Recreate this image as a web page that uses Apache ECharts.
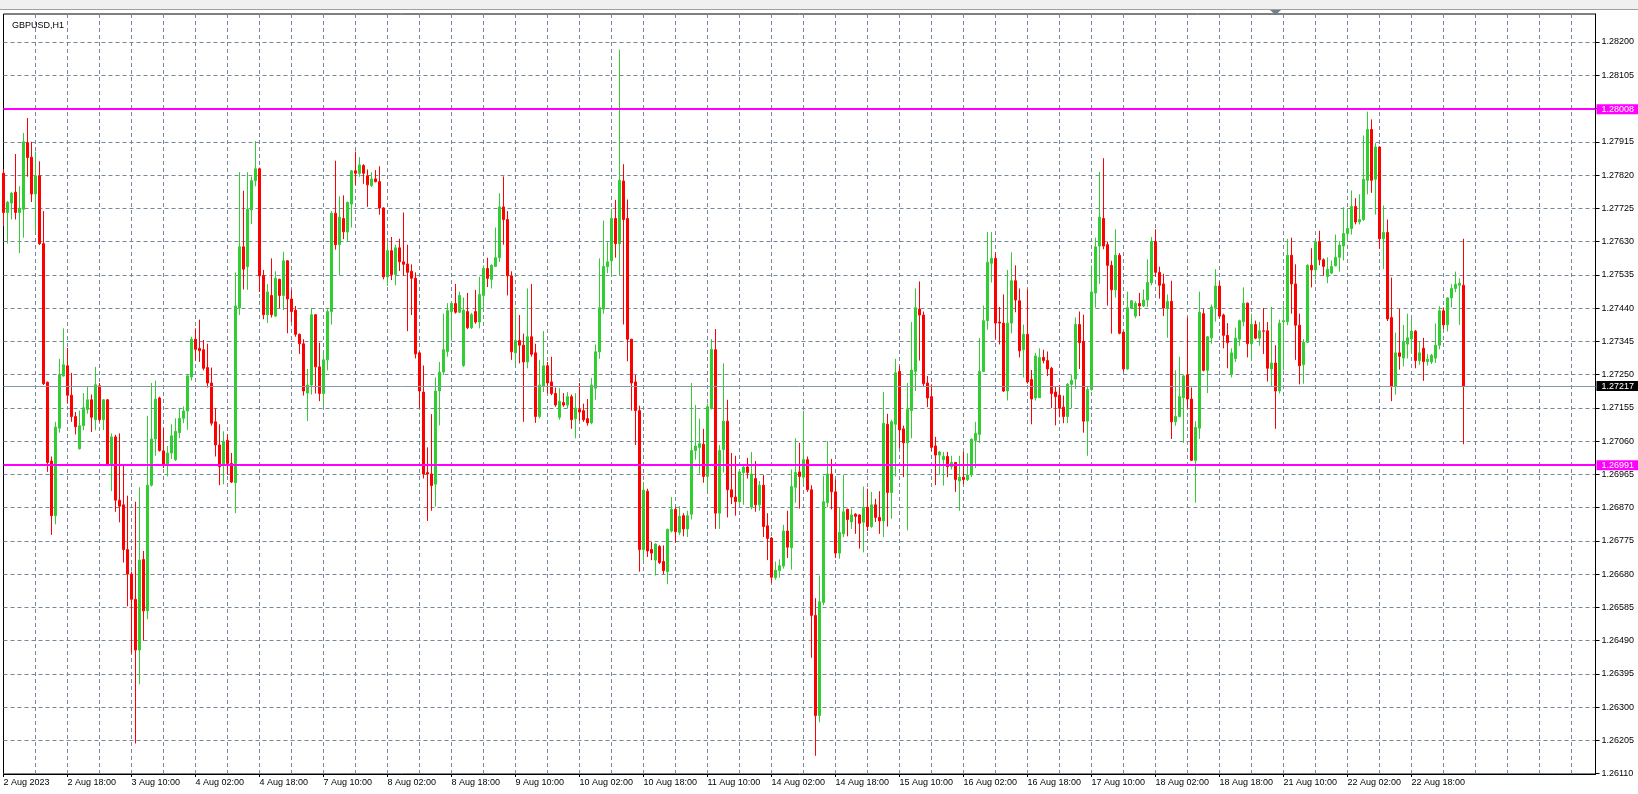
<!DOCTYPE html>
<html><head><meta charset="utf-8">
<script src="https://cdn.jsdelivr.net/npm/echarts@6/dist/echarts.min.js"></script>
<style>html,body{margin:0;padding:0;background:#fff}#c{width:1638px;height:794px}</style>
</head><body><div id="c"></div>
<script>
const symbolTitle = 'GBPUSD,H1';
const tickLabels = ['2 Aug 2023','2 Aug 18:00','3 Aug 10:00','4 Aug 02:00','4 Aug 18:00','7 Aug 10:00','8 Aug 02:00','8 Aug 18:00','9 Aug 10:00','10 Aug 02:00','10 Aug 18:00','11 Aug 10:00','14 Aug 02:00','14 Aug 18:00','15 Aug 10:00','16 Aug 02:00','16 Aug 18:00','17 Aug 10:00','18 Aug 02:00','18 Aug 18:00','21 Aug 10:00','22 Aug 02:00','22 Aug 18:00'];
const priceTicks = [1.26110,1.26205,1.26300,1.26395,1.26490,1.26585,1.26680,1.26775,1.26870,1.26965,1.27060,1.27155,1.27250,1.27345,1.27440,1.27535,1.27630,1.27725,1.27820,1.27915,1.28010,1.28105,1.28200];
const levelLines = [1.28008, 1.26991];
const lastPrice = 1.27217;
const totalSlots = 399;

const opens = [
1.27825,1.27713,1.27740,1.27771,1.27713,1.27722,1.27912,1.27871,1.27766,1.27818,
1.27624,1.27228,1.27003,1.26847,1.27097,1.27246,1.27275,1.27191,1.27130,1.27038,
1.27104,1.27150,1.27178,1.27121,1.27218,1.27121,1.27178,1.26992,1.27072,1.26891,
1.26878,1.26750,1.26680,1.26608,1.26463,1.26722,1.26575,1.26934,1.27066,1.27183,
1.27032,1.26990,1.27026,1.27007,1.27084,1.27125,1.27146,1.27243,1.27351,1.27325,
1.27321,1.27270,1.27226,1.27115,1.27049,1.26990,1.27062,1.26996,1.26941,1.27440,
1.27615,1.27558,1.27720,1.27804,1.27838,1.27533,1.27421,1.27476,1.27417,1.27522,
1.27476,1.27575,1.27466,1.27434,1.27365,1.27338,1.27197,1.27220,1.27421,1.27272,
1.27196,1.27292,1.27430,1.27711,1.27621,1.27696,1.27657,1.27737,1.27832,1.27825,
1.27847,1.27818,1.27790,1.27809,1.27801,1.27726,1.27529,1.27604,1.27536,1.27612,
1.27572,1.27566,1.27545,1.27525,1.27312,1.27200,1.26970,1.26966,1.26937,1.27203,
1.27257,1.27316,1.27430,1.27453,1.27428,1.27276,1.27430,1.27384,1.27430,1.27400,
1.27476,1.27553,1.27522,1.27559,1.27584,1.27729,1.27693,1.27532,1.27312,1.27347,
1.27334,1.27286,1.27358,1.27312,1.27130,1.27217,1.27275,1.27229,1.27196,1.27128,
1.27170,1.27163,1.27187,1.27124,1.27150,1.27147,1.27124,1.27112,1.27211,1.27315,
1.27437,1.27558,1.27575,1.27696,1.27624,1.27803,1.27696,1.27351,1.27229,1.27147,
1.26750,1.26917,1.26750,1.26720,1.26759,1.26716,1.26687,1.26803,1.26865,1.26799,
1.26847,1.26809,1.26851,1.27033,1.27042,1.27051,1.26959,1.27154,1.27321,1.26854,
1.27036,1.27117,1.26921,1.26900,1.26887,1.26970,1.26986,1.26871,1.26953,1.26878,
1.26934,1.26818,1.26783,1.26670,1.26690,1.26703,1.26803,1.26755,1.26928,1.26972,
1.26957,1.27007,1.26921,1.26562,1.26276,1.26599,1.26884,1.26966,1.26915,1.26740,
1.26795,1.26865,1.26829,1.26851,1.26849,1.26828,1.26871,1.26816,1.26878,1.26842,
1.26832,1.27108,1.26913,1.27108,1.27259,1.27095,1.27055,1.27147,1.27259,1.27437,
1.27420,1.27226,1.27187,1.27046,1.27020,1.27007,1.27016,1.26987,1.26999,1.26946,
1.26957,1.26950,1.26963,1.27062,1.27079,1.27259,1.27404,1.27568,1.27582,1.27400,
1.27397,1.27203,1.27397,1.27518,1.27461,1.27321,1.27365,1.27236,1.27183,1.27184,
1.27299,1.27290,1.27268,1.27200,1.27191,1.27157,1.27130,1.27222,1.27237,1.27393,
1.27345,1.27117,1.27207,1.27483,1.27617,1.27696,1.27621,1.27562,1.27492,1.27591,
1.27371,1.27266,1.27440,1.27417,1.27453,1.27446,1.27463,1.27512,1.27630,1.27542,
1.27509,1.27440,1.27459,1.27115,1.27130,1.27184,1.27249,1.27180,1.27005,1.27097,
1.27424,1.27262,1.27355,1.27441,1.27503,1.27420,1.27362,1.27250,1.27296,1.27351,
1.27401,1.27454,1.27338,1.27393,1.27354,1.27375,1.27375,1.27266,1.27283,1.27203,
1.27401,1.27401,1.27591,1.27509,1.27391,1.27278,1.27342,1.27562,1.27549,1.27630,
1.27578,1.27530,1.27540,1.27561,1.27585,1.27617,1.27653,1.27667,1.27730,1.27686,
1.27693,1.27805,1.27950,1.27808,1.27900,1.27638,1.27656,1.27413,1.27217,1.27312,
1.27297,1.27337,1.27352,1.27374,1.27290,1.27325,1.27287,1.27286,1.27297,1.27334,
1.27432,1.27392,1.27469,1.27496,1.27505,1.27505];

const highs = [
1.27836,1.27746,1.27772,1.27880,1.27788,1.27940,1.27983,1.27915,1.27887,1.27859,
1.27717,1.27230,1.27016,1.27115,1.27295,1.27382,1.27326,1.27255,1.27143,1.27147,
1.27197,1.27215,1.27193,1.27272,1.27226,1.27180,1.27180,1.27082,1.27078,1.27082,
1.26990,1.26904,1.26687,1.26887,1.26928,1.26746,1.27132,1.27226,1.27233,1.27187,
1.27097,1.27046,1.27108,1.27125,1.27154,1.27159,1.27250,1.27358,1.27382,1.27407,
1.27349,1.27338,1.27270,1.27154,1.27108,1.27088,1.27079,1.27026,1.27542,1.27828,
1.27775,1.27828,1.27816,1.27917,1.27841,1.27549,1.27509,1.27582,1.27545,1.27524,
1.27601,1.27577,1.27492,1.27446,1.27367,1.27351,1.27266,1.27440,1.27423,1.27341,
1.27312,1.27437,1.27717,1.27861,1.27759,1.27762,1.27744,1.27834,1.27887,1.27871,
1.27851,1.27836,1.27828,1.27834,1.27845,1.27728,1.27628,1.27643,1.27621,1.27638,
1.27713,1.27621,1.27565,1.27542,1.27315,1.27276,1.27042,1.27137,1.27242,1.27286,
1.27424,1.27454,1.27459,1.27509,1.27487,1.27470,1.27483,1.27426,1.27492,1.27529,
1.27562,1.27584,1.27565,1.27670,1.27768,1.27816,1.27717,1.27545,1.27441,1.27420,
1.27367,1.27496,1.27509,1.27338,1.27292,1.27374,1.27286,1.27301,1.27213,1.27211,
1.27197,1.27200,1.27193,1.27197,1.27226,1.27167,1.27180,1.27240,1.27336,1.27582,
1.27690,1.27628,1.27724,1.27749,1.28178,1.27851,1.27750,1.27352,1.27249,1.27161,
1.26943,1.26924,1.26772,1.26768,1.26763,1.26762,1.26810,1.26900,1.26871,1.26874,
1.26854,1.26861,1.27226,1.27163,1.27124,1.27095,1.27167,1.27351,1.27380,1.27049,
1.27282,1.27178,1.27026,1.27018,1.26976,1.26993,1.27012,1.27029,1.27003,1.26946,
1.26963,1.26854,1.26786,1.26716,1.26722,1.26821,1.26861,1.26979,1.27068,1.27055,
1.27147,1.27016,1.26934,1.26611,1.26676,1.26961,1.27060,1.27009,1.26950,1.26871,
1.26963,1.26867,1.26867,1.26854,1.26851,1.26930,1.26924,1.26915,1.26895,1.26917,
1.27200,1.27138,1.27121,1.27295,1.27275,1.27104,1.27226,1.27400,1.27496,1.27516,
1.27430,1.27246,1.27222,1.27072,1.27032,1.27029,1.27029,1.27018,1.27000,1.27018,
1.27029,1.27025,1.27068,1.27115,1.27354,1.27447,1.27657,1.27657,1.27599,1.27443,
1.27479,1.27549,1.27599,1.27562,1.27496,1.27393,1.27493,1.27263,1.27312,1.27325,
1.27321,1.27316,1.27272,1.27217,1.27220,1.27190,1.27226,1.27250,1.27413,1.27430,
1.27421,1.27217,1.27562,1.27641,1.27829,1.27868,1.27630,1.27575,1.27665,1.27597,
1.27374,1.27487,1.27463,1.27459,1.27483,1.27493,1.27579,1.27643,1.27665,1.27558,
1.27538,1.27479,1.27518,1.27262,1.27301,1.27249,1.27413,1.27213,1.27117,1.27487,
1.27437,1.27360,1.27450,1.27551,1.27516,1.27424,1.27397,1.27325,1.27384,1.27407,
1.27499,1.27456,1.27424,1.27404,1.27400,1.27440,1.27400,1.27443,1.27334,1.27407,
1.27447,1.27638,1.27641,1.27565,1.27424,1.27351,1.27565,1.27611,1.27634,1.27661,
1.27582,1.27585,1.27576,1.27650,1.27631,1.27728,1.27725,1.27776,1.27754,1.27765,
1.27933,1.28001,1.27979,1.27911,1.27902,1.27733,1.27693,1.27527,1.27370,1.27438,
1.27392,1.27424,1.27409,1.27377,1.27344,1.27355,1.27309,1.27309,1.27396,1.27445,
1.27442,1.27471,1.27508,1.27544,1.27525,1.27638];

const lows = [
1.27674,1.27624,1.27693,1.27693,1.27597,1.27641,1.27815,1.27743,1.27654,1.27620,
1.27220,1.26972,1.26792,1.26822,1.27084,1.27244,1.27167,1.27115,1.27079,1.27036,
1.27091,1.27138,1.27086,1.27091,1.27115,1.27091,1.26990,1.26917,1.26858,1.26828,
1.26713,1.26588,1.26453,1.26196,1.26365,1.26490,1.26551,1.26930,1.27018,1.27030,
1.26983,1.26959,1.27009,1.27003,1.27068,1.27111,1.27092,1.27233,1.27290,1.27286,
1.27262,1.27213,1.27104,1.27016,1.26934,1.26937,1.26963,1.26940,1.26854,1.27420,
1.27493,1.27492,1.27680,1.27788,1.27486,1.27408,1.27397,1.27413,1.27415,1.27440,
1.27434,1.27368,1.27400,1.27358,1.27309,1.27190,1.27117,1.27193,1.27196,1.27174,
1.27158,1.27262,1.27393,1.27607,1.27533,1.27637,1.27630,1.27670,1.27792,1.27815,
1.27795,1.27729,1.27786,1.27799,1.27707,1.27522,1.27503,1.27520,1.27505,1.27546,
1.27532,1.27374,1.27420,1.27296,1.27154,1.26953,1.26832,1.26861,1.26873,1.27105,
1.27249,1.27301,1.27347,1.27424,1.27426,1.27272,1.27380,1.27380,1.27395,1.27382,
1.27434,1.27500,1.27496,1.27558,1.27572,1.27621,1.27476,1.27292,1.27279,1.27282,
1.27115,1.27268,1.27301,1.27112,1.27125,1.27200,1.27196,1.27191,1.27158,1.27121,
1.27158,1.27154,1.27095,1.27068,1.27118,1.27115,1.27104,1.27108,1.27178,1.27295,
1.27424,1.27540,1.27533,1.27584,1.27532,1.27393,1.27288,1.27147,1.27049,1.26687,
1.26716,1.26729,1.26720,1.26676,1.26709,1.26680,1.26651,1.26799,1.26770,1.26792,
1.26788,1.26786,1.26836,1.27007,1.26967,1.26941,1.26920,1.27150,1.26809,1.26809,
1.26970,1.26842,1.26880,1.26847,1.26878,1.26878,1.26953,1.26865,1.26858,1.26861,
1.26786,1.26720,1.26654,1.26664,1.26670,1.26696,1.26726,1.26693,1.26884,1.26867,
1.26937,1.26915,1.26441,1.26161,1.26257,1.26591,1.26871,1.26865,1.26726,1.26724,
1.26786,1.26788,1.26809,1.26795,1.26753,1.26742,1.26803,1.26812,1.26829,1.26795,
1.26786,1.26816,1.26838,1.26959,1.27040,1.26957,1.26805,1.27068,1.27203,1.27290,
1.27217,1.27157,1.27032,1.26934,1.26963,1.26933,1.26957,1.26979,1.26915,1.26861,
1.26937,1.26946,1.26957,1.26983,1.27055,1.27257,1.27378,1.27513,1.27351,1.27336,
1.27200,1.27176,1.27368,1.27428,1.27299,1.27242,1.27224,1.27108,1.27176,1.27183,
1.27282,1.27246,1.27154,1.27105,1.27128,1.27111,1.27111,1.27154,1.27209,1.27266,
1.27084,1.27018,1.27204,1.27441,1.27509,1.27608,1.27447,1.27367,1.27470,1.27365,
1.27259,1.27264,1.27438,1.27411,1.27417,1.27443,1.27443,1.27505,1.27529,1.27467,
1.27417,1.27355,1.27066,1.27104,1.27128,1.27055,1.27154,1.27003,1.26884,1.27066,
1.27259,1.27197,1.27338,1.27401,1.27411,1.27325,1.27268,1.27242,1.27286,1.27332,
1.27388,1.27299,1.27290,1.27351,1.27332,1.27309,1.27230,1.27217,1.27095,1.27196,
1.27262,1.27391,1.27424,1.27292,1.27222,1.27224,1.27341,1.27499,1.27522,1.27562,
1.27532,1.27511,1.27537,1.27559,1.27544,1.27576,1.27631,1.27650,1.27679,1.27679,
1.27689,1.27765,1.27769,1.27707,1.27609,1.27551,1.27403,1.27174,1.27193,1.27264,
1.27273,1.27296,1.27309,1.27268,1.27278,1.27232,1.27276,1.27280,1.27283,1.27322,
1.27380,1.27373,1.27442,1.27486,1.27392,1.27051];

const closes = [
1.27713,1.27742,1.27768,1.27713,1.27725,1.27915,1.27870,1.27766,1.27818,1.27624,
1.27224,1.26999,1.26847,1.27100,1.27250,1.27278,1.27191,1.27130,1.27101,1.27104,
1.27155,1.27178,1.27128,1.27221,1.27121,1.27178,1.26992,1.27072,1.26891,1.26874,
1.26750,1.26680,1.26608,1.26463,1.26720,1.26575,1.26934,1.27066,1.27180,1.27033,
1.26990,1.27026,1.27075,1.27088,1.27125,1.27146,1.27246,1.27351,1.27322,1.27318,
1.27268,1.27226,1.27111,1.27049,1.26987,1.27058,1.26996,1.26943,1.27446,1.27615,
1.27551,1.27722,1.27804,1.27838,1.27532,1.27421,1.27486,1.27421,1.27525,1.27476,
1.27575,1.27466,1.27430,1.27365,1.27338,1.27203,1.27220,1.27421,1.27272,1.27196,
1.27292,1.27430,1.27711,1.27621,1.27700,1.27658,1.27742,1.27832,1.27825,1.27849,
1.27825,1.27792,1.27809,1.27801,1.27726,1.27529,1.27604,1.27536,1.27612,1.27572,
1.27565,1.27542,1.27525,1.27309,1.27203,1.26966,1.26966,1.26933,1.27203,1.27257,
1.27321,1.27433,1.27453,1.27428,1.27476,1.27434,1.27384,1.27421,1.27400,1.27479,
1.27553,1.27525,1.27562,1.27584,1.27729,1.27693,1.27532,1.27315,1.27347,1.27334,
1.27286,1.27358,1.27308,1.27130,1.27220,1.27275,1.27226,1.27196,1.27163,1.27174,
1.27163,1.27187,1.27121,1.27154,1.27143,1.27121,1.27112,1.27220,1.27315,1.27441,
1.27559,1.27572,1.27696,1.27624,1.27805,1.27693,1.27351,1.27226,1.27147,1.26750,
1.26920,1.26746,1.26740,1.26766,1.26713,1.26690,1.26808,1.26865,1.26801,1.26845,
1.26809,1.26847,1.27033,1.27046,1.27053,1.26959,1.27158,1.27322,1.26854,1.27033,
1.27117,1.26921,1.26900,1.26887,1.26972,1.26986,1.26970,1.26966,1.26878,1.26934,
1.26816,1.26782,1.26671,1.26691,1.26704,1.26803,1.26757,1.26930,1.26970,1.26959,
1.27007,1.26921,1.26562,1.26276,1.26601,1.26887,1.26966,1.26915,1.26740,1.26799,
1.26858,1.26836,1.26849,1.26845,1.26825,1.26871,1.26816,1.26878,1.26842,1.26832,
1.27111,1.26913,1.27115,1.27255,1.27092,1.27055,1.27150,1.27263,1.27441,1.27420,
1.27224,1.27183,1.27042,1.27020,1.27029,1.27016,1.26987,1.26999,1.26950,1.26957,
1.26950,1.26963,1.27065,1.27082,1.27259,1.27404,1.27571,1.27582,1.27397,1.27397,
1.27203,1.27397,1.27518,1.27463,1.27318,1.27365,1.27229,1.27180,1.27303,1.27299,
1.27290,1.27266,1.27196,1.27187,1.27154,1.27130,1.27222,1.27233,1.27393,1.27341,
1.27117,1.27207,1.27486,1.27615,1.27700,1.27617,1.27562,1.27492,1.27591,1.27368,
1.27266,1.27441,1.27461,1.27453,1.27446,1.27463,1.27513,1.27630,1.27542,1.27505,
1.27440,1.27459,1.27115,1.27130,1.27187,1.27246,1.27180,1.27005,1.27099,1.27428,
1.27262,1.27358,1.27443,1.27503,1.27417,1.27362,1.27341,1.27312,1.27354,1.27404,
1.27454,1.27338,1.27393,1.27354,1.27375,1.27374,1.27268,1.27283,1.27203,1.27397,
1.27404,1.27591,1.27509,1.27391,1.27275,1.27342,1.27562,1.27549,1.27628,1.27578,
1.27559,1.27551,1.27559,1.27585,1.27620,1.27653,1.27667,1.27730,1.27686,1.27693,
1.27808,1.27950,1.27805,1.27900,1.27638,1.27656,1.27409,1.27217,1.27312,1.27302,
1.27345,1.27355,1.27374,1.27290,1.27312,1.27287,1.27294,1.27305,1.27334,1.27432,
1.27392,1.27469,1.27496,1.27508,1.27511,1.27217];

const categories = [];
for (let i = 0; i < totalSlots; i++) categories.push(String(i));
const candles = opens.map((o, i) => {
  const c = closes[i];
  return [o, c, Math.min(lows[i], o, c), Math.max(highs[i], o, c)];
});

const FONT = 'Liberation Sans';
const GRID = '#778899';
const labelIdx = (i) => i % 16 === 0 && i / 16 < tickLabels.length;

const chart = echarts.init(document.getElementById('c'), null, {renderer: 'canvas', width: 1638, height: 794});
chart.setOption({
  animation: false,
  backgroundColor: '#ffffff',
  title: {
    text: symbolTitle, left: 7, top: 16,
    textStyle: {fontFamily: FONT, fontSize: 9, fontWeight: 'normal', color: '#000'}
  },
  grid: {
    left: 3.5, right: 42.5, top: 14, bottom: 20,
    show: true, borderColor: '#000', borderWidth: 1, backgroundColor: '#fff'
  },
  xAxis: {
    type: 'category', data: categories, boundaryGap: false,
    axisLine: {show: true, lineStyle: {color: '#000', width: 1}},
    axisTick: {show: true, interval: (i) => labelIdx(i), length: 3, lineStyle: {color: '#000'}},
    axisLabel: {
      interval: (i) => labelIdx(i), showMinLabel: true, showMaxLabel: true, hideOverlap: false,
      formatter: (v) => { const n = Number(v); return (n % 16 === 0 && tickLabels[n / 16]) ? tickLabels[n / 16] : ''; },
      align: 'left', margin: 4, fontFamily: FONT, fontSize: 9, color: '#000'
    },
    splitLine: {show: true, interval: (i) => i > 0 && i % 8 === 0, lineStyle: {color: GRID, width: 1, type: [4, 3]}}
  },
  yAxis: {
    type: 'value', position: 'right', min: 1.26109, max: 1.28280, scale: true,
    axisLine: {show: true, onZero: false, lineStyle: {color: '#000', width: 1}},
    axisTick: {show: true, customValues: priceTicks, length: 4, lineStyle: {color: '#000'}},
    axisLabel: {
      customValues: priceTicks, formatter: (v) => v.toFixed(5),
      margin: 6, fontFamily: FONT, fontSize: 9, color: '#000'
    },
    splitLine: {show: true, lineStyle: {color: GRID, width: 1, type: [4, 3]}}
  },
  series: [{
    type: 'candlestick', data: candles, barWidth: 2, clip: true,
    itemStyle: {color: '#32CD32', color0: '#FF0000', borderColor: '#32CD32', borderColor0: '#FF0000', borderWidth: 1},
    markLine: {
      silent: true, symbol: 'none', animation: false, precision: 5,
      data: [
        {yAxis: lastPrice, lineStyle: {color: '#8798a8', width: 1, type: 'solid'},
         label: {show: true, position: 'end', distance: 1, formatter: () => lastPrice.toFixed(5),
                 backgroundColor: '#000', color: '#fff', fontFamily: FONT, fontSize: 9, padding: [1, 6, 0, 5], width: 31}},
        ...levelLines.map(v => ({yAxis: v, lineStyle: {color: '#FF00FF', width: 2, type: 'solid'},
         label: {show: true, position: 'end', distance: 1, formatter: () => v.toFixed(5),
                 backgroundColor: '#FF00FF', color: '#fff', fontFamily: FONT, fontSize: 9, padding: [1, 6, 0, 5], width: 31}}))
      ]
    }
  }],
  graphic: [
    {type: 'rect', left: 0, top: 0, shape: {width: 1638, height: 9}, style: {fill: '#f0f0f0'}, z: 100},
    {type: 'line', shape: {x1: 0, y1: 9.5, x2: 1638, y2: 9.5}, style: {stroke: '#a0a0a0', lineWidth: 1}, z: 100},
    {type: 'polygon', shape: {points: [[1270, 10], [1281, 10], [1275.5, 15]]}, style: {fill: '#708090'}, z: 100}
  ]
});
</script>
</body></html>
